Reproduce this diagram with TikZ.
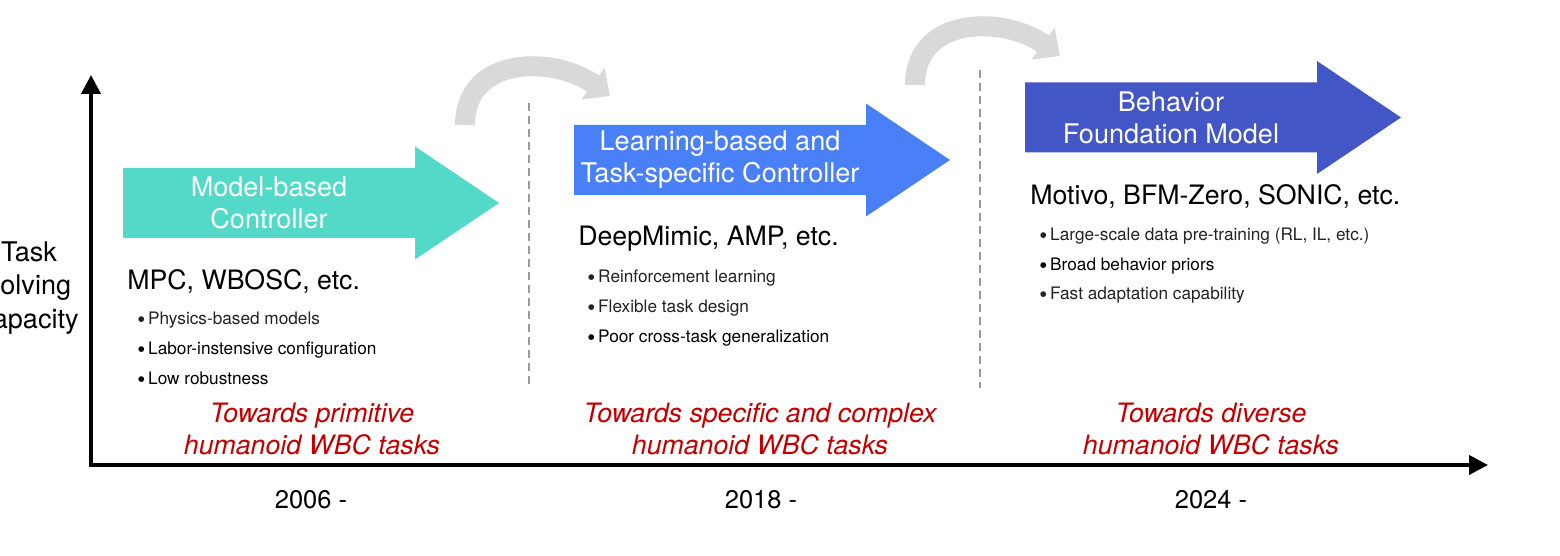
\documentclass[tikz,border=0pt]{standalone}
\usepackage{fontspec}
\setmainfont{TeX Gyre Heros}
\usepackage{xcolor}
\usetikzlibrary{arrows.meta}
\definecolor{stageTeal}{RGB}{82,217,199}
\definecolor{stageBlue}{RGB}{74,128,247}
\definecolor{stageIndigo}{RGB}{67,86,198}
\definecolor{arcGray}{RGB}{217,217,217}
\definecolor{sepGray}{RGB}{153,153,153}
\definecolor{goalRed}{RGB}{192,0,0}
\definecolor{inkGray}{RGB}{34,34,34}
% block arrow: left end at (#1,#2), filled with #3
\newcommand{\StageArrow}[3]{%
  \fill[#3] (#1,#2) ++(0,0.70) -- ++(5.84,0) -- ++(0,0.43) -- ++(1.68,-1.13)
    -- ++(-1.68,-1.13) -- ++(0,0.43) -- ++(-5.84,0) -- cycle;}
\newcommand{\Dot}{\raisebox{-0.32ex}{\fontsize{13}{11}\selectfont\textbullet}\,}

\begin{document}
\begin{tikzpicture}[
  axis/.style={line width=0.08cm,-{Triangle[length=0.38cm,width=0.38cm]}},
  hop/.style={arcGray,line width=0.40cm,-{Triangle[length=0.42cm,width=0.76cm]}},
  sep/.style={sepGray,line width=0.04cm,dash pattern=on 0.16cm off 0.10cm},
  stagetext/.style={white,align=center,inner sep=0pt,font=\fontsize{15.4}{18.2}\selectfont},
  example/.style={anchor=west,inner sep=0pt,font=\fontsize{15.2}{18.2}\selectfont},
  point/.style={anchor=west,inner sep=0pt,text=inkGray,font=\fontsize{9.8}{11}\selectfont},
  goal/.style={goalRed,align=center,inner sep=0pt,font=\itshape\fontsize{15.2}{18.2}\selectfont},
  year/.style={inner sep=0pt,font=\fontsize{14.5}{17}\selectfont}]
  \useasboundingbox (0,0) rectangle (31.2,11.12);

  % axes
  \coordinate (origin) at (1.82,1.82);
  \coordinate (ytop) at (1.82,9.62);
  \coordinate (xend) at (29.76,1.82);
  \draw[axis,line cap=rect] (origin) -- (ytop);
  \draw[axis] (origin) -- (xend);
  \node[align=center,inner sep=0pt,font=\fontsize{15.4}{19.1}\selectfont] (ylabel) at (0.58,5.36) {Task\\solving\\capacity};

  % separators
  \draw[sep] (10.58,9.06) -- (10.58,3.36);
  \draw[sep] (19.60,9.72) -- (19.60,3.36);

  % curved hops
  \coordinate (hopAs) at (9.30,8.62);
  \coordinate (hopAe) at (12.20,9.20);
  \draw[hop] (hopAs) .. controls (9.30,10.02) and (11.10,10.00) .. (hopAe);
  \coordinate (hopBs) at (18.30,9.42);
  \coordinate (hopBe) at (21.20,10.00);
  \draw[hop] (hopBs) .. controls (18.30,10.82) and (20.10,10.80) .. (hopBe);

  % stages
  \StageArrow{2.46}{7.06}{stageTeal}
  \StageArrow{11.48}{7.92}{stageBlue}
  \StageArrow{20.50}{8.77}{stageIndigo}
  \node[stagetext] (stageA) at (5.38,7.06) {Model-based\\Controller};
  \node[stagetext] (stageB) at (14.40,7.92) {Learning-based and\\Task-specific Controller};
  \node[stagetext] (stageC) at (23.42,8.77) {Behavior\\Foundation Model};

  % examples
  \node[example] (exA) at (2.54,5.50) {MPC, WBOSC, etc.};
  \node[example] (exB) at (11.56,6.34) {DeepMimic, AMP, etc.};
  \node[example] (exC) at (20.60,7.20) {Motivo, BFM-Zero, SONIC, etc.};

  % key points
  \node[point] (ptA1) at (2.74,4.72) {\Dot Physics-based models};
  \node[point,text=black] (ptA2) at (2.74,4.12) {\Dot Labor-instensive configuration};
  \node[point,text=black] (ptA3) at (2.74,3.52) {\Dot Low robustness};
  \node[point] (ptB1) at (11.74,5.56) {\Dot Reinforcement learning};
  \node[point] (ptB2) at (11.74,4.96) {\Dot Flexible task design};
  \node[point,text=black] (ptB3) at (11.74,4.36) {\Dot Poor cross-task generalization};
  \node[point] (ptC1) at (20.78,6.40) {\Dot Large-scale data pre-training (RL, IL, etc.)};
  \node[point,text=black] (ptC2) at (20.78,5.80) {\Dot Broad behavior priors};
  \node[point] (ptC3) at (20.78,5.22) {\Dot Fast adaptation capability};

  % goals
  \node[goal] (goalA) at (6.24,2.54) {Towards primitive\\humanoid WBC tasks};
  \node[goal] (goalB) at (15.20,2.54) {Towards specific and complex\\humanoid WBC tasks};
  \node[goal] (goalC) at (24.22,2.54) {Towards diverse\\humanoid WBC tasks};

  % years
  \node[year] (yearA) at (6.22,1.12) {2006 -};
  \node[year] (yearB) at (15.22,1.12) {2018 -};
  \node[year] (yearC) at (24.22,1.12) {2024 -};
\end{tikzpicture}
\end{document}
